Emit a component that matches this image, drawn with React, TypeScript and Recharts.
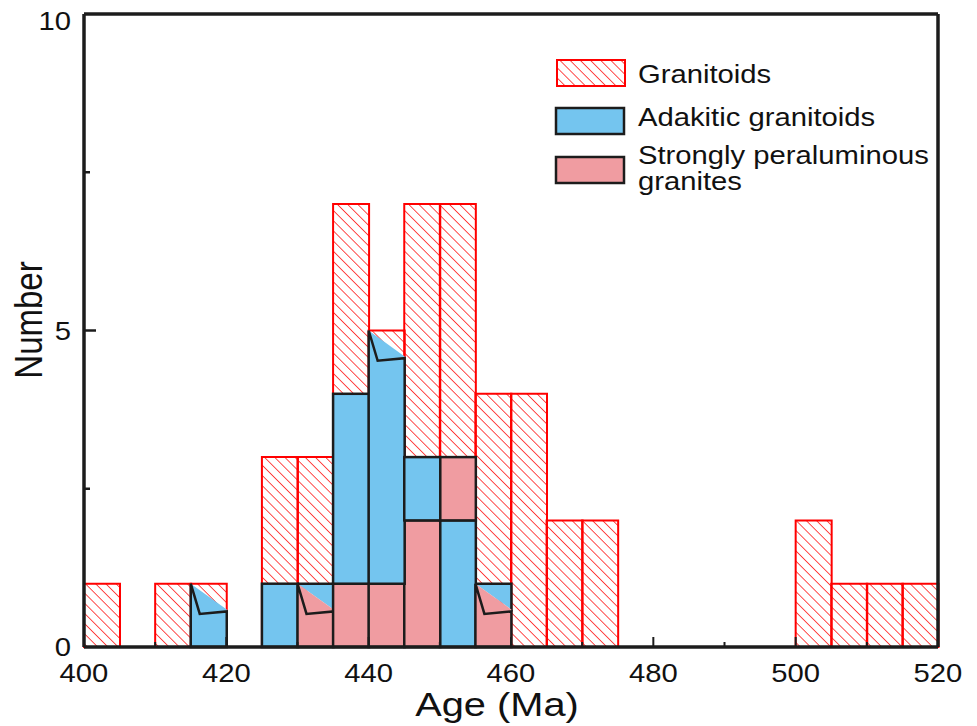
import React from 'react';
import { BarChart, Bar, XAxis, YAxis } from 'recharts';

// ---- data ----
const binWidth = 5;
const binStarts = [400, 405, 410, 415, 420, 425, 430, 435, 440, 445, 450, 455, 460, 465, 470, 475, 480, 485, 490, 495, 500, 505, 510, 515];
const granitoids = [1, 0, 1, 1, 0, 3, 3, 7, 5, 7, 7, 4, 4, 2, 2, 0, 0, 0, 0, 0, 2, 1, 1, 1];
// stacked segments (bottom to top) as they appear in the figure
const adakiticLower = [0, 0, 0, 1, 0, 1, 0, 0, 0, 0, 2, 0, 0, 0, 0, 0, 0, 0, 0, 0, 0, 0, 0, 0];
const peraluminous = [0, 0, 0, 0, 0, 0, 1, 1, 1, 2, 1, 1, 0, 0, 0, 0, 0, 0, 0, 0, 0, 0, 0, 0];
const adakiticUpper = [0, 0, 0, 0, 0, 0, 0, 3, 4, 1, 0, 0, 0, 0, 0, 0, 0, 0, 0, 0, 0, 0, 0, 0];
const curledAdakitic = [415, 440];
const curledPeraluminous = [430, 455];

const xTicks = [400, 410, 420, 430, 440, 450, 460, 470, 480, 490, 500, 510, 520];
const yTicks = [0, 2.5, 5, 7.5, 10];

const legendLabels = ['Granitoids', 'Adakitic granitoids', 'Strongly peraluminous', 'granites'];

// ---- style ----
const RED = '#ff0000';
const BLUE = '#74c5ef';
const PINK = '#f09ca1';
const INK = '#1c1c1c';
const SX = 1.17;
const FONT = "'Liberation Sans', Arial, Helvetica, sans-serif";

const data = binStarts.map((s, i) => ({
  start: s,
  mid: s + binWidth / 2,
  granitoids: granitoids[i],
  aLow: adakiticLower[i],
  sp: peraluminous[i],
  aHigh: adakiticUpper[i],
}));

const makeShape = (curled: number[], reveal: string | null) => (props: any) => {
  const { x, y, width: w, height: h, fill, payload } = props;
  if (!h || h <= 0 || !w) return <g />;
  if (!curled.includes(payload.start)) {
    return <rect x={x} y={y} width={w} height={h} fill={fill} stroke={INK} strokeWidth={2.5} />;
  }
  const D = [x + w, y + 0.72 * w];
  const F = [x + 0.25 * w, y + 0.84 * w];
  const R = [x + w, y + 0.77 * w];
  return (
    <g>
      {reveal && <path d={`M${x},${y} L${x + w},${y} L${D[0]},${D[1]} Z`} fill={reveal} />}
      {reveal && (
        <path d={`M${x},${y} L${x + w},${y} L${x + w},${R[1]}`} fill="none" stroke={INK} strokeWidth={2.5} />
      )}
      <path d={`M${x},${y} L${D[0]},${D[1]} L${x + w},${y + h} L${x},${y + h} Z`} fill={fill} />
      <path
        d={`M${x},${y + h} L${x},${y} L${F[0]},${F[1]} L${R[0]},${R[1]} L${x + w},${y + h} Z`}
        fill="none"
        stroke={INK}
        strokeWidth={2.5}
      />
    </g>
  );
};

const adakiticShape = makeShape(curledAdakitic, null);
const peraluminousShape = makeShape(curledPeraluminous, BLUE);

const XTick = (props: any) => {
  const { x, y, payload } = props;
  const v = payload.value;
  const major = v % 20 === 0;
  const edge = v === xTicks[0] || v === xTicks[xTicks.length - 1];
  return (
    <g>
      {!edge && <line x1={x} x2={x} y1={y} y2={y - (major ? 10 : 5)} stroke={INK} strokeWidth={2} />}
      {major && (
        <text
          transform={`translate(${x},${y + 35}) scale(${SX},1)`}
          textAnchor="middle"
          fontSize={25}
          fontFamily={FONT}
          fill="#111"
        >
          {v}
        </text>
      )}
    </g>
  );
};

const YTick = (props: any) => {
  const { x, y, payload } = props;
  const v = payload.value;
  const major = v % 5 === 0;
  const edge = v === yTicks[0] || v === yTicks[yTicks.length - 1];
  const baseline = Math.max(y + 9, 30);
  return (
    <g>
      {!edge && <line x1={x} x2={x + (major ? 12 : 6)} y1={y} y2={y} stroke={INK} strokeWidth={2.5} />}
      {major && (
        <text
          transform={`translate(${x - 13},${baseline}) scale(${SX},1)`}
          textAnchor="end"
          fontSize={25}
          fontFamily={FONT}
          fill="#111"
        >
          {v}
        </text>
      )}
    </g>
  );
};

export default function App() {
  return (
    <div style={{ position: 'absolute', left: 0, top: 0, width: 977, height: 726, background: '#fff' }}>
      <svg width={0} height={0} style={{ position: 'absolute' }}>
        <defs>
          <pattern id="hatch" patternUnits="userSpaceOnUse" width={7.2} height={7.2} patternTransform="rotate(-45)">
            <line x1={0} y1={-2} x2={0} y2={10} stroke={RED} strokeWidth={1.4} />
          </pattern>
        </defs>
      </svg>
      <BarChart
        width={977}
        height={726}
        data={data}
        margin={{ top: 13, right: 38, bottom: 19, left: 24 }}
        barCategoryGap={0}
        barGap={0}
      >
        <XAxis
          xAxisId="top"
          orientation="top"
          dataKey="mid"
          type="number"
          domain={[400, 520]}
          tick={false}
          tickLine={false}
          height={1}
          axisLine={{ stroke: INK, strokeWidth: 3.5 }}
        />
        <XAxis
          xAxisId="main"
          dataKey="mid"
          type="number"
          domain={[400, 520]}
          ticks={xTicks}
          interval={0}
          tick={<XTick />}
          tickLine={false}
          tickSize={0}
          tickMargin={0}
          height={60}
          axisLine={{ stroke: INK, strokeWidth: 3.5 }}
          label={{
            content: () => (
              <text
                transform={`translate(497,716) scale(${SX},1)`}
                textAnchor="middle"
                fontSize={34}
                fontFamily={FONT}
                fill="#111"
              >
                Age (Ma)
              </text>
            ),
          }}
        />
        <YAxis
          yAxisId="left"
          domain={[0, 10]}
          ticks={yTicks}
          interval={0}
          tick={<YTick />}
          tickLine={false}
          tickSize={0}
          tickMargin={0}
          width={60}
          axisLine={{ stroke: INK, strokeWidth: 3.5 }}
          label={{
            content: () => (
              <text
                transform={`translate(42,320) scale(${SX},1) rotate(-90)`}
                textAnchor="middle"
                fontSize={33}
                fontFamily={FONT}
                fill="#111"
              >
                Number
              </text>
            ),
          }}
        />
        <YAxis
          yAxisId="right"
          orientation="right"
          domain={[0, 10]}
          ticks={[0, 10]}
          tick={false}
          tickLine={false}
          width={1}
          axisLine={{ stroke: INK, strokeWidth: 3.5 }}
        />
        <Bar
          xAxisId="top"
          yAxisId="left"
          dataKey="granitoids"
          fill="url(#hatch)"
          stroke={RED}
          strokeWidth={2}
          isAnimationActive={false}
        />
        <Bar xAxisId="main" yAxisId="left" dataKey="aLow" stackId="s" fill={BLUE} shape={adakiticShape} isAnimationActive={false} />
        <Bar xAxisId="main" yAxisId="left" dataKey="sp" stackId="s" fill={PINK} shape={peraluminousShape} isAnimationActive={false} />
        <Bar xAxisId="main" yAxisId="left" dataKey="aHigh" stackId="s" fill={BLUE} shape={adakiticShape} isAnimationActive={false} />
      </BarChart>
      <svg
        width={977}
        height={726}
        style={{ position: 'absolute', left: 0, top: 0, pointerEvents: 'none' }}
      >
        <rect x={557} y={60} width={68} height={26} fill="url(#hatch)" stroke={RED} strokeWidth={2} />
        <rect x={556} y={108} width={68} height={26} fill={BLUE} stroke={INK} strokeWidth={2.5} />
        <rect x={556} y={157} width={68} height={26} fill={PINK} stroke={INK} strokeWidth={2.5} />
        <g fontSize={25} fontFamily={FONT} fill="#111">
          <text transform={`translate(638,83) scale(${SX},1)`}>{legendLabels[0]}</text>
          <text transform={`translate(638,126) scale(${SX},1)`}>{legendLabels[1]}</text>
          <text transform={`translate(638,164) scale(${SX},1)`}>{legendLabels[2]}</text>
          <text transform={`translate(638,190) scale(${SX},1)`}>{legendLabels[3]}</text>
        </g>
      </svg>
    </div>
  );
}
